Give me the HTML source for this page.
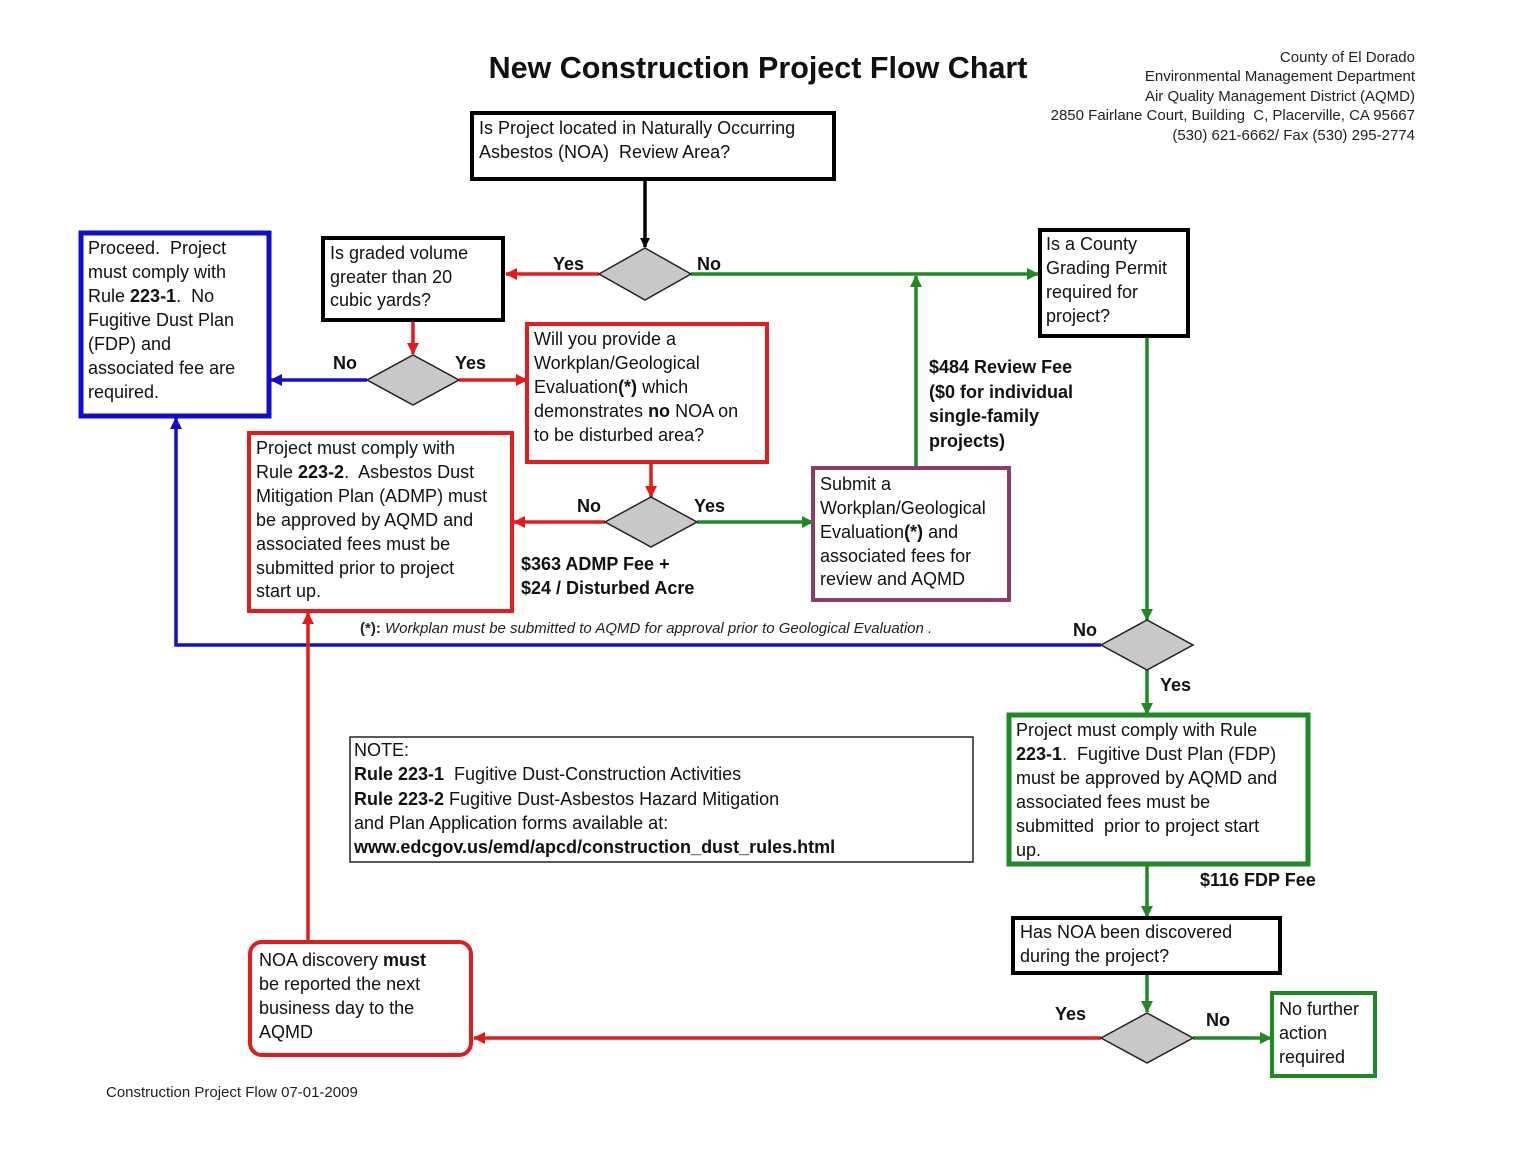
<!DOCTYPE html>
<html><head><meta charset="utf-8"><style>
html,body{margin:0;padding:0;background:#fff;}
svg{display:block;font-family:"Liberation Sans",Arial,sans-serif;}
text{white-space:pre;}
.t{font-size:18px;fill:#111;}
.b{font-weight:bold;}
.h{font-size:15px;fill:#222;}
</style></head><body>
<svg width="1519" height="1174" viewBox="0 0 1519 1174" xmlns="http://www.w3.org/2000/svg" xml:space="preserve">
<defs>
<marker id="ak" markerWidth="10" markerHeight="10" refX="9" refY="5" orient="auto" markerUnits="userSpaceOnUse"><path d="M0,0 L10,5 L0,10 z" fill="#000"/></marker>
<marker id="ar" markerWidth="12" markerHeight="12" refX="11" refY="6" orient="auto" markerUnits="userSpaceOnUse"><path d="M0,0 L12,6 L0,12 z" fill="#e31b1b"/></marker>
<marker id="ag" markerWidth="12" markerHeight="12" refX="11" refY="6" orient="auto" markerUnits="userSpaceOnUse"><path d="M0,0 L12,6 L0,12 z" fill="#1f8a24"/></marker>
<marker id="ab" markerWidth="12" markerHeight="12" refX="11" refY="6" orient="auto" markerUnits="userSpaceOnUse"><path d="M0,0 L12,6 L0,12 z" fill="#1010c8"/></marker>
</defs>
<rect width="1519" height="1174" fill="#fff"/>
<text x="758" y="78" text-anchor="middle" font-size="30.5" font-weight="bold" fill="#111">New Construction Project Flow Chart</text>
<g class="h" text-anchor="end">
<text x="1415" y="62">County of El Dorado</text>
<text x="1415" y="81">Environmental Management Department</text>
<text x="1415" y="101">Air Quality Management District (AQMD)</text>
<text x="1415" y="120">2850 Fairlane Court, Building  C, Placerville, CA 95667</text>
<text x="1415" y="140">(530) 621-6662/ Fax (530) 295-2774</text>
</g>

<g fill="none" stroke-width="3.5">
<line x1="645" y1="179" x2="645" y2="247" stroke="#000" marker-end="url(#ak)"/>
<line x1="599" y1="274" x2="506" y2="274" stroke="#e31b1b" marker-end="url(#ar)"/>
<line x1="691" y1="274" x2="1038" y2="274" stroke="#1f8a24" marker-end="url(#ag)"/>
<line x1="413" y1="320" x2="413" y2="354" stroke="#e31b1b" marker-end="url(#ar)"/>
<line x1="367" y1="380" x2="271" y2="380" stroke="#1010c8" marker-end="url(#ab)"/>
<line x1="459" y1="380" x2="527" y2="380" stroke="#e31b1b" marker-end="url(#ar)"/>
<line x1="651" y1="462" x2="651" y2="497" stroke="#e31b1b" marker-end="url(#ar)"/>
<line x1="605" y1="522" x2="514" y2="522" stroke="#e31b1b" marker-end="url(#ar)"/>
<line x1="697" y1="522" x2="813" y2="522" stroke="#1f8a24" marker-end="url(#ag)"/>
<line x1="916" y1="468" x2="916" y2="276" stroke="#1f8a24" marker-end="url(#ag)"/>
<line x1="1147" y1="336" x2="1147" y2="620" stroke="#1f8a24" marker-end="url(#ag)"/>
<polyline points="1101,645 176,645 176,418" stroke="#1010c8" marker-end="url(#ab)"/>
<line x1="1147" y1="670" x2="1147" y2="714" stroke="#1f8a24" marker-end="url(#ag)"/>
<line x1="1147" y1="864" x2="1147" y2="917" stroke="#1f8a24" marker-end="url(#ag)"/>
<line x1="1147" y1="973" x2="1147" y2="1012" stroke="#1f8a24" marker-end="url(#ag)"/>
<line x1="1101" y1="1038" x2="474" y2="1038" stroke="#e31b1b" marker-end="url(#ar)"/>
<line x1="1193" y1="1038" x2="1271" y2="1038" stroke="#1f8a24" marker-end="url(#ag)"/>
<line x1="308" y1="942" x2="308" y2="613" stroke="#e31b1b" marker-end="url(#ar)"/>
</g>

<g fill="#c8c8c8" stroke="#222" stroke-width="1.5">
<polygon points="599,274 645,248 691,274 645,300"/>
<polygon points="367,380 413,355 459,380 413,405"/>
<polygon points="605,522 651,497 697,522 651,547"/>
<polygon points="1101,645 1147,620 1193,645 1147,670"/>
<polygon points="1101,1038 1147,1013 1193,1038 1147,1063"/>
</g>

<g fill="#fff">
<rect x="472" y="113" width="362" height="66" stroke="#000" stroke-width="4"/>
<rect x="323" y="238" width="180" height="82" stroke="#000" stroke-width="4"/>
<rect x="81" y="233" width="188" height="183" stroke="#1010c8" stroke-width="5"/>
<rect x="527" y="324" width="240" height="138" stroke="#e31b1b" stroke-width="4"/>
<rect x="249" y="433" width="263" height="178" stroke="#e31b1b" stroke-width="4"/>
<rect x="813" y="468" width="196" height="132" stroke="#8e3a6c" stroke-width="4"/>
<rect x="1040" y="230" width="148" height="106" stroke="#000" stroke-width="4"/>
<rect x="1009" y="715" width="299" height="149" stroke="#1f8a24" stroke-width="5"/>
<rect x="1013" y="918" width="267" height="55" stroke="#000" stroke-width="4"/>
<rect x="1272" y="993" width="103" height="83" stroke="#1f8a24" stroke-width="4"/>
<rect x="250" y="942" width="221" height="113" rx="12" stroke="#e31b1b" stroke-width="4"/>
<rect x="350" y="737" width="623" height="125" stroke="#222" stroke-width="1.5"/>
</g>

<g class="t">
<text x="479" y="134">Is Project located in Naturally Occurring</text>
<text x="479" y="158">Asbestos (NOA)  Review Area?</text>

<text x="330" y="259">Is graded volume</text>
<text x="330" y="283">greater than 20</text>
<text x="330" y="306">cubic yards?</text>

<text x="88" y="254">Proceed.  Project</text>
<text x="88" y="278">must comply with</text>
<text x="88" y="302">Rule <tspan class="b">223-1</tspan>.  No</text>
<text x="88" y="326">Fugitive Dust Plan</text>
<text x="88" y="350">(FDP) and</text>
<text x="88" y="374">associated fee are</text>
<text x="88" y="398">required.</text>

<text x="534" y="345">Will you provide a</text>
<text x="534" y="369">Workplan/Geological</text>
<text x="534" y="393">Evaluation<tspan class="b">(*)</tspan> which</text>
<text x="534" y="417">demonstrates <tspan class="b">no</tspan> NOA on</text>
<text x="534" y="441">to be disturbed area?</text>

<text x="256" y="454">Project must comply with</text>
<text x="256" y="478">Rule <tspan class="b">223-2</tspan>.  Asbestos Dust</text>
<text x="256" y="502">Mitigation Plan (ADMP) must</text>
<text x="256" y="526">be approved by AQMD and</text>
<text x="256" y="550">associated fees must be</text>
<text x="256" y="574">submitted prior to project</text>
<text x="256" y="597">start up.</text>

<text x="820" y="490">Submit a</text>
<text x="820" y="514">Workplan/Geological</text>
<text x="820" y="538">Evaluation<tspan class="b">(*)</tspan> and</text>
<text x="820" y="562">associated fees for</text>
<text x="820" y="585">review and AQMD</text>

<text x="1046" y="250">Is a County</text>
<text x="1046" y="274">Grading Permit</text>
<text x="1046" y="298">required for</text>
<text x="1046" y="322">project?</text>

<text x="1016" y="736">Project must comply with Rule</text>
<text x="1016" y="760"><tspan class="b">223-1</tspan>.  Fugitive Dust Plan (FDP)</text>
<text x="1016" y="784">must be approved by AQMD and</text>
<text x="1016" y="808">associated fees must be</text>
<text x="1016" y="832">submitted  prior to project start</text>
<text x="1016" y="856">up.</text>

<text x="1020" y="938">Has NOA been discovered</text>
<text x="1020" y="962">during the project?</text>

<text x="1279" y="1015">No further</text>
<text x="1279" y="1039">action</text>
<text x="1279" y="1063">required</text>

<text x="259" y="966">NOA discovery <tspan class="b">must</tspan></text>
<text x="259" y="990">be reported the next</text>
<text x="259" y="1014">business day to the</text>
<text x="259" y="1038">AQMD</text>

<text x="354" y="756">NOTE:</text>
<text x="354" y="780"><tspan class="b">Rule 223-1</tspan>  Fugitive Dust-Construction Activities</text>
<text x="354" y="805"><tspan class="b">Rule 223-2</tspan> Fugitive Dust-Asbestos Hazard Mitigation</text>
<text x="354" y="829">and Plan Application forms available at:</text>
<text x="354" y="853" class="b">www.edcgov.us/emd/apcd/construction_dust_rules.html</text>
</g>

<g class="t b">
<text x="553" y="270">Yes</text>
<text x="697" y="270">No</text>
<text x="333" y="369">No</text>
<text x="455" y="369">Yes</text>
<text x="577" y="512">No</text>
<text x="694" y="512">Yes</text>
<text x="521" y="570">$363 ADMP Fee +</text>
<text x="521" y="594">$24 / Disturbed Acre</text>
<text x="929" y="373">$484 Review Fee</text>
<text x="929" y="398">($0 for individual</text>
<text x="929" y="422">single-family</text>
<text x="929" y="447">projects)</text>
<text x="1073" y="636">No</text>
<text x="1160" y="691">Yes</text>
<text x="1200" y="886">$116 FDP Fee</text>
<text x="1055" y="1020">Yes</text>
<text x="1206" y="1026">No</text>
</g>

<text x="360" y="633" font-size="15" font-style="italic" fill="#222"><tspan font-weight="bold" font-style="normal">(*):</tspan> Workplan must be submitted to AQMD for approval prior to Geological Evaluation .</text>
<text x="106" y="1097" class="h">Construction Project Flow 07-01-2009</text>
</svg>
</body></html>
